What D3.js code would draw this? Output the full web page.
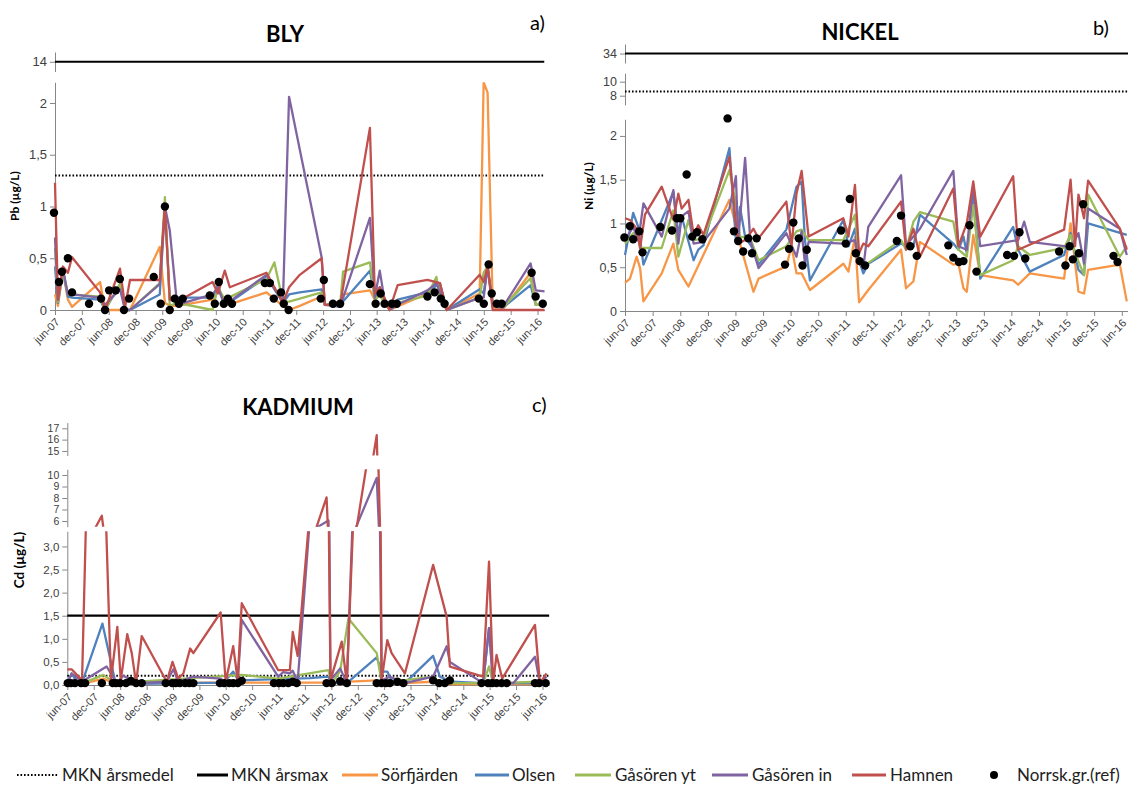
<!DOCTYPE html>
<html lang="sv">
<head>
<meta charset="UTF-8">
<title>Bly, nickel och kadmium</title>
<script src="https://cdn.jsdelivr.net/npm/d3@7"></script>
<style>
  body { margin: 0; background: #fff; }
  svg { font-family: Lato, "Open Sans", sans-serif; }
  .axis path, .axis line { stroke: #868686; }
  .axis text { fill: #404040; }
</style>
</head>
<body>
<div id="chart"></div>
<script>
// ---------- data ----------
const stations = ["Sörfjärden", "Olsen", "Gåsören yt", "Gåsören in", "Hamnen"];
const stationColors = ["#F79646", "#4F81BD", "#9BBB59", "#8064A2", "#C0504D"];

const xTickDates = ["2007-06-01","2007-12-01","2008-06-01","2008-12-01","2009-06-01","2009-12-01",
  "2010-06-01","2010-12-01","2011-06-01","2011-12-01","2012-06-01","2012-12-01","2013-06-01",
  "2013-12-01","2014-06-01","2014-12-01","2015-06-01","2015-12-01","2016-06-01"];
const xTickLabels = ["jun-07","dec-07","jun-08","dec-08","jun-09","dec-09","jun-10","dec-10",
  "jun-11","dec-11","jun-12","dec-12","jun-13","dec-13","jun-14","dec-14","jun-15","dec-15","jun-16"];

// MKN values per metal: Pb, Ni, Cd
const mknArsmedel = [1.3, 8.6, 0.2];
const mknArsmax = [14, 34, 1.5];

// ----- BLY (Pb, µg/L) -----
const pbDates = ["2007-06-01","2007-06-21","2007-07-25","2007-08-28","2007-09-25","2008-04-03","2008-05-07",
  "2008-08-17","2008-09-21","2008-10-24","2009-05-15","2009-06-19","2009-07-22","2009-09-10","2010-05-10",
  "2010-06-15","2010-08-01","2010-09-04","2011-05-12","2011-07-05","2011-09-01","2011-10-13","2011-12-25",
  "2012-05-22","2012-06-13","2012-09-25","2012-10-15","2013-04-16","2013-05-19","2013-06-22","2013-07-24",
  "2013-08-28","2013-10-22","2014-05-13","2014-07-13","2014-08-06","2014-09-22","2015-05-04","2015-05-31",
  "2015-06-27","2015-08-01","2015-10-06","2016-04-15","2016-05-20","2016-07-19"];
const pbSorfjarden = [0.15,0.04,0.38,0.1,0.03,0.27,0,null,0,0,0.61,0.07,0.04,0.04,0.1,0.22,0.04,null,0.17,null,
  0.04,0,0.04,0.13,0.05,0.08,0.15,0.19,0.1,0.16,null,0,null,0.16,0.29,null,0,0.16,2.2,2.1,0.03,0,0.36,0.05,0.05];
const pbOlsen = [0.42,0.07,0.38,0.13,0.12,0.1,0,0.25,0,0,0.15,1.0,0.1,0.12,0.12,0.24,0.04,null,0.32,null,
  0.07,0.15,0.17,0.2,0.05,0.05,null,0.38,0.12,0.22,null,0,0.1,0.17,null,0.26,0,0.2,0.16,0.42,0.05,0.02,0.24,0.05,0.05];
const pbGasorenYt = [0.6,0.08,0.38,0.15,0.15,0.13,0,0.25,0,0,0.26,1.09,0.04,0.07,0,0.22,0.1,null,0.3,0.46,
  0.08,0.08,0.11,0.17,0.05,0.05,0.37,0.46,0.1,0.14,null,0,0.07,0.14,0.32,0.1,0,0.12,0.36,0.42,0.05,0.02,0.31,0.05,0.05];
const pbGasorenIn = [0.7,0.1,0.4,0.15,0.15,0.12,0.05,0.2,0,0,0.25,1.0,0.77,0.05,0.15,0.22,0.05,null,0.34,null,
  0.07,2.06,null,0.51,0.05,0.03,null,0.89,0.12,0.38,0.1,0,0.05,0.19,0.26,null,0,0.12,0.12,0.42,0.05,0.02,0.45,0.19,0.18];
const pbHamnen = [1.23,0.1,0.42,0.36,0.51,0.17,0,0.4,0.03,0.29,0.29,1.0,0.1,0.08,0.27,0.16,0.38,0.22,0.36,null,
  0.07,0.22,0.34,0.5,0.05,0.05,null,1.76,0.16,0.22,null,0,0.24,0.29,null,0.26,0,0.34,0.27,0.42,0,0,0,0,0];
const pbRefDates = ["2007-05-25","2007-06-28","2007-07-18","2007-08-28","2007-09-25","2008-01-19","2008-04-10",
  "2008-05-07","2008-06-04","2008-07-19","2008-08-16","2008-09-13","2008-10-18","2009-04-04","2009-05-21",
  "2009-06-19","2009-07-22","2009-08-25","2009-09-22","2009-10-19","2010-04-21","2010-05-25","2010-06-21",
  "2010-07-25","2010-08-22","2010-09-19","2011-05-01","2011-06-04","2011-07-01","2011-08-19","2011-09-07",
  "2011-10-10","2012-05-16","2012-06-06","2012-08-07","2012-09-25","2013-04-16","2013-05-25","2013-06-28",
  "2013-07-25","2013-09-12","2013-10-16","2014-05-13","2014-07-01","2014-08-12","2014-09-07","2015-04-28",
  "2015-06-01","2015-07-04","2015-07-25","2015-08-28","2015-10-01","2016-04-22","2016-05-19","2016-07-07"];
const pbRefValues = [0.94,0.27,0.37,0.5,0.17,0.06,0.11,0,0.19,0.19,0.3,0,0.11,0.32,0.06,1.0,0,0.11,0.06,0.11,
  0.14,0.06,0.27,0.06,0.11,0.06,0.26,0.26,0.11,0.17,0.06,0,0.11,0.29,0.06,0.06,0.25,0.06,0.16,0.06,0.06,0.06,
  0.13,0.17,0.11,0.06,0.11,0.06,0.44,0.16,0.06,0.06,0.36,0.13,0.06];

// ----- NICKEL (Ni, µg/L) -----
const niDates = ["2007-06-01","2007-07-04","2007-07-25","2007-08-17","2007-08-28","2007-09-09","2007-10-01",
  "2007-10-11","2008-01-30","2008-04-16","2008-05-19","2008-06-10","2008-07-25","2008-08-28","2008-09-28",
  "2008-11-01","2009-04-22","2009-06-04","2009-06-19","2009-07-01","2009-08-04","2009-09-07","2009-09-28",
  "2009-11-01","2010-05-04","2010-06-07","2010-07-10","2010-08-13","2010-09-04","2010-09-28","2010-10-07",
  "2011-05-16","2011-06-19","2011-08-01","2011-08-28","2011-09-25","2011-10-28","2012-06-01","2012-07-04",
  "2012-08-22","2012-10-04","2013-05-13","2013-06-16","2013-07-19","2013-08-10","2013-09-22","2013-11-07",
  "2014-06-13","2014-07-16","2014-08-25","2014-10-01","2015-05-16","2015-06-28","2015-07-28","2015-08-19",
  "2015-09-25","2015-10-22","2016-05-19","2016-07-04"];
const niSorfjarden = [0.32,0.37,null,0.62,null,0.49,0.11,null,0.43,0.77,0.47,null,0.28,null,null,null,1.27,null,
  null,0.77,null,null,0.22,0.37,0.51,0.74,0.43,0.43,null,null,0.24,0.54,0.45,0.85,0.1,null,0.24,0.7,0.26,0.34,
  0.79,0.53,0.54,0.26,0.22,0.87,0.41,0.35,0.3,null,0.43,0.37,1.0,null,0.22,0.2,0.47,0.53,0.11];
const niOlsen = [0.64,null,1.12,null,0.96,null,0.53,null,null,1.36,0.87,1.08,null,0.58,0.7,0.75,1.86,0.81,null,
  1.19,0.85,null,0.7,0.53,0.93,null,1.42,1.48,0.81,null,0.35,1.04,0.74,0.94,0.58,0.43,0.54,0.77,0.74,0.74,1.1,
  0.77,0.7,0.85,0.66,1.33,0.37,0.96,0.7,null,0.45,0.64,0.89,null,0.47,0.41,1.0,null,0.87];
const niGasorenYt = [0.77,null,0.89,null,0.85,0.72,null,null,0.72,1.15,0.62,null,1.04,0.81,null,0.83,1.61,1.23,
  null,0.85,null,0.83,null,0.58,0.74,null,0.91,0.93,null,0.81,null,0.81,null,1.1,0.62,0.51,null,0.81,0.7,1.02,
  1.13,1.02,0.7,null,0.62,1.21,0.41,0.58,0.74,null,0.64,0.72,0.87,0.66,null,0.41,1.33,0.62,0.74];
const niGasorenIn = [0.81,null,0.96,null,0.8,null,1.23,null,0.85,1.38,0.77,1.08,1.14,0.77,null,0.79,1.17,1.54,
  0.81,null,1.75,0.81,null,0.49,0.89,null,0.62,0.91,0.54,0.79,null,0.77,null,0.81,0.54,0.49,0.96,1.55,0.75,null,
  0.94,1.6,0.74,null,0.7,1.44,0.74,null,0.81,1.02,0.79,0.74,0.72,null,0.89,0.54,1.17,0.94,0.64];
const niHamnen = [1.06,1.04,null,0.94,null,0.72,null,1.1,1.42,1.04,1.34,1.17,1.27,0.87,0.98,0.87,1.76,1.0,0.77,
  null,0.81,null,0.94,0.83,1.25,0.74,1.34,1.6,null,0.85,null,1.06,0.85,1.44,0.66,0.77,0.74,1.25,0.7,0.94,0.62,
  1.4,0.74,null,1.0,1.48,0.85,1.54,0.7,null,null,0.93,1.5,0.74,1.33,1.06,1.49,0.94,0.7];
const niRefDates = ["2007-05-28","2007-07-03","2007-07-25","2007-09-03","2007-09-25","2008-01-21","2008-04-07",
  "2008-05-10","2008-06-01","2008-07-13","2008-08-19","2008-09-19","2008-10-25","2009-04-10","2009-05-22",
  "2009-06-19","2009-07-22","2009-08-25","2009-09-19","2009-10-19","2010-04-25","2010-05-22","2010-06-19",
  "2010-07-25","2010-08-19","2010-09-16","2011-05-01","2011-06-01","2011-06-28","2011-08-07","2011-09-01",
  "2011-10-07","2012-05-04","2012-06-01","2012-08-01","2012-09-13","2013-04-10","2013-05-13","2013-06-19",
  "2013-07-19","2013-08-28","2013-10-13","2014-05-04","2014-06-19","2014-07-25","2014-09-01","2015-04-13",
  "2015-05-25","2015-06-22","2015-07-13","2015-08-22","2015-09-19","2016-04-07","2016-05-04"];
const niRefValues = [0.84,0.97,0.82,0.91,0.67,0.96,0.92,1.06,1.06,1.56,0.85,0.9,0.82,2.2,0.91,0.8,0.68,0.83,0.66,
  0.83,0.53,0.71,1.01,0.83,0.52,0.7,0.92,0.77,1.28,0.66,0.57,0.52,0.8,1.09,0.74,0.63,0.75,0.61,0.56,0.57,0.98,
  0.45,0.64,0.63,0.9,0.6,0.68,0.52,0.74,0.59,0.66,1.22,0.63,0.56];

// ----- KADMIUM (Cd, µg/L) -----
const cdSorfjarden = [["2007-06-01",0.02],["2007-09-09",0.02],["2008-02-06",0.14],["2008-04-26",0.02],
  ["2009-06-04",0.05],["2010-09-20",0.05],["2012-05-11",0.05],["2013-04-11",0.1],["2013-05-15",0.02],
  ["2014-05-06",0.07],["2014-06-22",0.02],["2016-06-29",0.02]];
const cdOlsen = [["2007-06-01",0.04],["2007-07-01",0.25],["2007-08-05",0.07],["2007-09-09",0.03],
  ["2008-01-30",1.33],["2008-04-26",0.1],["2008-06-01",0.02],["2010-05-15",0.05],["2010-07-23",0.29],
  ["2010-08-27",0.1],["2012-01-06",0.15],["2012-05-11",0.18],["2012-06-04",0.04],["2012-09-16",0.04],
  ["2013-04-11",0.6],["2013-05-15",0.29],["2013-06-23",0.29],["2013-07-23",0.1],["2013-10-23",0.04],
  ["2014-05-06",0.63],["2014-06-22",0.18],["2014-09-12",0.07],["2015-04-17",0.04],["2015-05-28",1.23],
  ["2015-06-25",0.04],["2016-06-29",0.04]];
const cdGasorenYt = [["2007-06-01",0.02],["2007-09-09",0.03],["2008-02-06",0.22],["2008-04-26",0.04],
  ["2010-09-20",0.22],["2011-05-30",0.14],["2012-05-11",0.32],["2012-06-04",0.04],["2012-08-01",0.3],
  ["2012-09-27",1.44],["2013-04-11",0.69],["2013-05-15",0.04],["2014-05-06",0.18],["2014-06-22",0.04],
  ["2015-04-17",0.04],["2015-05-28",0.4],["2015-06-25",0.04],["2016-05-14",0.07],["2016-06-29",0.04]];
const cdGasorenIn = [["2007-06-01",0.04],["2007-07-01",0.25],["2007-09-09",0.07],["2008-02-28",0.4],
  ["2008-05-08",0.04],["2008-06-23",0.2],["2008-09-19",0.04],["2009-04-19",0.07],["2009-06-04",0.34],
  ["2009-07-08",0.07],["2009-10-20",0.18],["2010-04-27",0.14],["2010-06-01",0.04],["2010-08-23",0.07],
  ["2010-09-20",1.41],["2011-05-30",0.18],["2011-07-04",0.28],["2011-08-19",0.25],["2011-09-08",0.31],
  ["2011-10-12",0.07],["2012-02-17",5.4],["2012-05-12",6.05],["2012-05-26",0.1],["2012-08-01",0.36],
  ["2012-09-16",0.04],["2012-11-16",5.4],["2013-04-11",9.75],["2013-05-15",0.1],["2013-07-11",0.18],
  ["2013-10-23",0.04],["2014-05-06",0.18],["2014-08-08",0.84],["2014-08-30",0.5],["2015-04-17",0.04],
  ["2015-05-28",1.23],["2015-06-25",0.04],["2015-11-12",0.04],["2016-04-10",0.61],["2016-05-14",0.04],
  ["2016-06-29",0.18]];
const cdHamnen = [["2007-06-01",0.34],["2007-07-01",0.34],["2007-09-11",0.1],["2007-10-12",4.0],
  ["2008-01-26",6.45],["2008-03-29",0.1],["2008-05-12",1.26],["2008-06-05",0.1],["2008-07-20",1.1],
  ["2008-08-20",0.69],["2008-09-19",0.04],["2008-10-28",1.06],["2009-04-19",0.07],["2009-05-29",0.5],
  ["2009-07-08",0.14],["2009-08-12",0.25],["2009-09-28",0.79],["2009-10-20",0.69],["2010-04-27",1.57],
  ["2010-06-01",0.07],["2010-07-23",0.84],["2010-08-23",0.1],["2010-09-20",1.77],["2011-05-30",0.32],
  ["2011-08-19",0.32],["2011-09-08",1.15],["2011-10-12",0.63],["2012-04-29",8.06],["2012-05-26",0.1],
  ["2012-08-12",0.94],["2012-09-16",0.04],["2013-04-11",16.4],["2013-05-15",0.1],["2013-06-23",0.97],
  ["2013-07-23",0.69],["2013-10-23",0.25],["2014-05-06",2.6],["2014-08-08",1.48],["2014-08-30",0.4],
  ["2015-04-17",0.18],["2015-05-28",2.67],["2015-06-25",0.04],["2015-07-19",0.65],["2015-08-27",0.14],
  ["2016-04-10",1.3],["2016-05-14",0.04],["2016-06-29",0.25]];
const cdRef = [["2007-06-04",0.04],["2007-06-26",0.04],["2007-07-24",0.04],["2007-09-04",0.04],["2007-10-02",0.04],
  ["2008-01-26",0.04],["2008-04-11",0.04],["2008-05-03",0.04],["2008-05-31",0.04],["2008-07-11",0.04],
  ["2008-08-15",0.09],["2008-09-19",0.04],["2008-10-28",0.04],["2009-04-12",0.04],["2009-05-27",0.04],
  ["2009-06-20",0.04],["2009-07-19",0.04],["2009-08-24",0.04],["2009-09-23",0.04],["2009-10-20",0.04],
  ["2010-04-22",0.04],["2010-05-21",0.04],["2010-06-26",0.04],["2010-07-23",0.04],["2010-08-23",0.04],
  ["2010-09-20",0.09],["2011-05-01",0.04],["2011-06-04",0.04],["2011-07-04",0.04],["2011-08-08",0.04],
  ["2011-09-08",0.07],["2011-10-05",0.04],["2012-04-29",0.04],["2012-06-04",0.04],["2012-08-01",0.08],
  ["2012-09-16",0.04],["2013-04-11",0.04],["2013-05-15",0.04],["2013-06-14",0.04],["2013-07-11",0.04],
  ["2013-09-01",0.07],["2013-10-12",0.04],["2014-05-06",0.1],["2014-06-17",0.04],["2014-07-26",0.04],
  ["2014-08-30",0.1],["2015-04-06",0.04],["2015-05-21",0.04],["2015-06-19",0.04],["2015-07-19",0.04],
  ["2015-08-23",0.04],["2015-09-27",0.04],["2016-04-10",0.04],["2016-05-09",0.04],["2016-06-23",0.04]];

// ---------- drawing ----------
const parse = d3.timeParse("%Y-%m-%d");
const zip = (dates, vals) => dates.map((d, i) => [d, vals[i]]);

const commaFmt = d => String(d).replace(".", ",");
const commaFmt1 = d => d3.format(".1f")(d).replace(".", ",");

const svg = d3.select("#chart").append("svg")
  .attr("width", 1128).attr("height", 785);

const defs = svg.append("defs");
let clipId = 0;

const panels = [
  {
    title: "BLY", tag: "a)", ylabel: "Pb (µg/L)", metal: 0,
    x0: 55, x16: 537.5,
    titleX: 285, titleY: 42, tagX: 530, tagY: 30, labelX: 19, labelY: 196, labelSize: 12,
    series: [pbSorfjarden, pbOlsen, pbGasorenYt, pbGasorenIn, pbHamnen].map(v => zip(pbDates, v)),
    ref: zip(pbRefDates, pbRefValues),
    segments: [
      {domain: [0, 2.2], range: [310, 82.3], ticks: [0, 0.5, 1, 1.5, 2], fmt: commaFmt, size: 13},
      {domain: [13.5, 14.5], range: [71.5, 52], ticks: [14], fmt: commaFmt, size: 13}
    ]
  },
  {
    title: "NICKEL", tag: "b)", ylabel: "Ni (µg/L)", metal: 1,
    x0: 625, x16: 1121.8,
    titleX: 860, titleY: 40, tagX: 1093, tagY: 35, labelX: 593, labelY: 186, labelSize: 12,
    series: [niSorfjarden, niOlsen, niGasorenYt, niGasorenIn, niHamnen].map(v => zip(niDates, v)),
    ref: zip(niRefDates, niRefValues),
    segments: [
      {domain: [0, 2.19], range: [311, 119.3], ticks: [0, 0.5, 1, 1.5, 2], fmt: commaFmt, size: 12.5},
      {domain: [6.7, 11.2], range: [104.8, 73.3], ticks: [8, 10], fmt: commaFmt, size: 12.5},
      {domain: [33, 35], range: [63, 44], ticks: [34], fmt: commaFmt, size: 12.5}
    ]
  },
  {
    title: "KADMIUM", tag: "c)", ylabel: "Cd (µg/L)", metal: 2,
    x0: 67.3, x16: 542.5,
    titleX: 298, titleY: 415, tagX: 532, tagY: 412, labelX: 24, labelY: 560, labelSize: 13.5,
    series: [cdSorfjarden, cdOlsen, cdGasorenYt, cdGasorenIn, cdHamnen],
    ref: cdRef,
    segments: [
      {domain: [0, 3.33], range: [685, 531.2], ticks: [0, 0.5, 1, 1.5, 2, 2.5, 3], fmt: commaFmt1, size: 11.5},
      {domain: [5.5, 10.5], range: [526.75, 469.25], ticks: [6, 7, 8, 9, 10], fmt: commaFmt, size: 10.5},
      {domain: [14.6, 17.5], range: [455.5, 422.6], ticks: [15, 16, 17], fmt: commaFmt, size: 10.5}
    ]
  }
];

const startDate = parse("2007-06-01"), jun16 = parse("2016-06-01"), endDate = parse("2016-07-17");

panels.forEach(p => {
  const g = svg.append("g");
  const xEnd = p.x0 + (p.x16 - p.x0) * (endDate - startDate) / (jun16 - startDate);
  const x = d3.scaleTime().domain([startDate, endDate]).range([p.x0, xEnd]);

  const segs = p.segments.map((s, i) => {
    const y = d3.scaleLinear().domain(s.domain).range(s.range);
    const id = "clip" + (clipId++);
    const pad = i === 0 ? 3 : 0;
    defs.append("clipPath").attr("id", id).append("rect")
      .attr("x", p.x0 - 2).attr("y", s.range[1])
      .attr("width", xEnd - p.x0 + 4).attr("height", s.range[0] - s.range[1] + pad);
    return {y, id, s};
  });

  // y axes (one short axis for each segment)
  segs.forEach(({y, s}) => {
    const ax = g.append("g").attr("class", "axis")
      .attr("transform", `translate(${p.x0},0)`)
      .call(d3.axisLeft(y).tickValues(s.ticks).tickFormat(s.fmt).tickSize(5).tickSizeOuter(0));
    ax.selectAll("text").style("font-size", s.size + "px");
  });

  // x axis
  const lower = segs[0];
  const xa = g.append("g").attr("class", "axis")
    .attr("transform", `translate(0,${lower.s.range[0]})`)
    .call(d3.axisBottom(x).tickValues(xTickDates.map(parse))
      .tickFormat((d, i) => xTickLabels[i]).tickSize(5).tickSizeOuter(0));
  xa.selectAll("text")
    .attr("x", 0).attr("y", 0).attr("dy", "0.35em")
    .attr("text-anchor", "end")
    .attr("transform", "translate(2,10) rotate(-45)")
    .style("font-size", "11px");

  // MKN lines
  const segFor = v => segs.find(({s}) => v >= s.domain[0] && v <= s.domain[1]);
  const maxSeg = segFor(mknArsmax[p.metal]);
  g.append("line")
    .attr("x1", p.x0).attr("x2", xEnd)
    .attr("y1", maxSeg.y(mknArsmax[p.metal])).attr("y2", maxSeg.y(mknArsmax[p.metal]))
    .attr("stroke", "#000").attr("stroke-width", 2.2);
  const meanSeg = segFor(mknArsmedel[p.metal]);
  g.append("line")
    .attr("x1", p.x0).attr("x2", xEnd)
    .attr("y1", meanSeg.y(mknArsmedel[p.metal])).attr("y2", meanSeg.y(mknArsmedel[p.metal]))
    .attr("stroke", "#000").attr("stroke-width", 2).attr("stroke-dasharray", "1.6,1.9");

  // station lines, drawn in every segment and clipped to it
  segs.forEach(({y, id}) => {
    const line = d3.line().x(d => x(parse(d[0]))).y(d => y(d[1]));
    const lg = g.append("g").attr("clip-path", `url(#${id})`);
    p.series.forEach((ser, k) => {
      lg.append("path")
        .datum(ser.filter(d => d[1] !== null))
        .attr("d", line)
        .attr("fill", "none")
        .attr("stroke", stationColors[k])
        .attr("stroke-width", 2.3)
        .attr("stroke-linejoin", "round");
    });
  });

  // reference dots
  g.append("g").selectAll("circle")
    .data(p.ref)
    .join("circle")
    .attr("cx", d => x(parse(d[0])))
    .attr("cy", d => lower.y(d[1]))
    .attr("r", 4.2)
    .attr("fill", "#000");

  // titles
  g.append("text").attr("x", p.titleX).attr("y", p.titleY)
    .attr("text-anchor", "middle").style("font-size", "22px").style("font-weight", "bold")
    .text(p.title);
  g.append("text").attr("x", p.tagX).attr("y", p.tagY)
    .style("font-size", "20px").text(p.tag);
  g.append("text")
    .attr("transform", `translate(${p.labelX},${p.labelY}) rotate(-90)`)
    .attr("text-anchor", "middle")
    .style("font-size", p.labelSize + "px").style("font-weight", "bold")
    .text(p.ylabel);
});

// ---------- legend ----------
const legendItems = [
  {label: "MKN årsmedel", x1: 17, x2: 58, tx: 62, color: "#000", dash: "1.6,1.9"},
  {label: "MKN årsmax", x1: 197, x2: 228, tx: 231, color: "#000"},
  {label: stations[0], x1: 342, x2: 378, tx: 381, color: stationColors[0]},
  {label: stations[1], x1: 475, x2: 509, tx: 512, color: stationColors[1]},
  {label: stations[2], x1: 575, x2: 611, tx: 615, color: stationColors[2]},
  {label: stations[3], x1: 712, x2: 748, tx: 752, color: stationColors[3]},
  {label: stations[4], x1: 852, x2: 886, tx: 890, color: stationColors[4]},
  {label: "Norrsk.gr.(ref)", dot: 994, tx: 1017, color: "#000"}
];
const ly = 775;
const lg = svg.append("g");
legendItems.forEach(it => {
  if (it.dot) {
    lg.append("circle").attr("cx", it.dot).attr("cy", ly).attr("r", 4).attr("fill", it.color);
  } else {
    lg.append("line").attr("x1", it.x1).attr("x2", it.x2).attr("y1", ly).attr("y2", ly)
      .attr("stroke", it.color).attr("stroke-width", it.dash ? 2 : 3)
      .attr("stroke-dasharray", it.dash || null);
  }
  lg.append("text").attr("x", it.tx).attr("y", ly).attr("dy", "0.35em")
    .style("font-size", "17px").attr("fill", "#222").text(it.label);
});
</script>
</body>
</html>
